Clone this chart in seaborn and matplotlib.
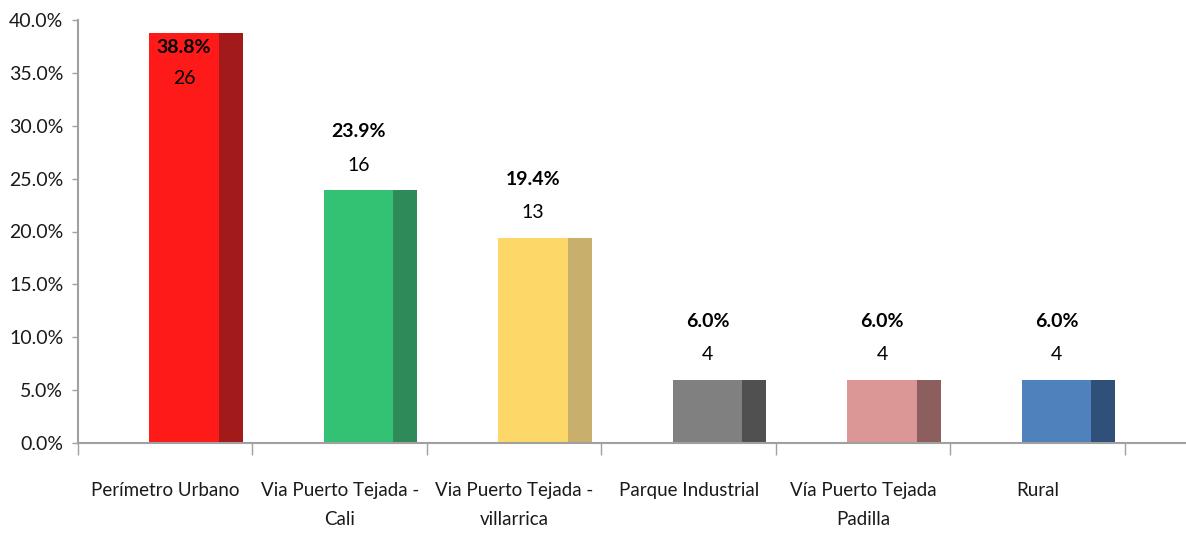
import numpy as np
import pandas as pd
import matplotlib
matplotlib.use("Agg")
import matplotlib.pyplot as plt
import seaborn as sns

categories = ["Perímetro Urbano", "Via Puerto Tejada -\nCali", "Via Puerto Tejada -\nvillarrica",
              "Parque Industrial", "Vía Puerto Tejada\nPadilla", "Rural"]
percent = [38.8, 23.9, 19.4, 6.0, 6.0, 6.0]
counts = [26, 16, 13, 4, 4, 4]

front_colors = ["#FF1A1A", "#33C173", "#FDD868", "#808080", "#DB9696", "#4F81BD"]
side_colors = ["#A31A1A", "#2E8A59", "#C8AF6C", "#505050", "#8C5E5E", "#30507A"]

sns.set_theme(style="white")
plt.rcParams['font.family'] = ['Lato', 'DejaVu Sans']

df = pd.DataFrame({"cat": categories, "pct": np.array(percent) / 100})

fig = plt.figure(figsize=(11.86, 5.34), dpi=100)
ax = fig.add_axes([78 / 1186, 91 / 534, 1 - 78 / 1186, 423 / 534])

sns.barplot(data=df, x="cat", y="pct", hue="cat", palette=front_colors, legend=False,
            width=0.4, saturation=1, linewidth=0, ax=ax)

# darker side face of each bar (fake 3D look)
pos = np.arange(len(categories))
ax.bar(pos + 0.2 + 0.0685, df["pct"], width=0.137, color=side_colors, linewidth=0)

# labels
for i, (p, c) in enumerate(zip(percent, counts)):
    if p > 35:
        off_p, off_c = -11, -33
    else:
        off_p, off_c = 42, 18
    ax.annotate(f"{p:.1f}%", (i, p / 100), xytext=(0, off_p), textcoords="offset points",
                ha="center", va="center", fontsize=14, fontweight="bold", color="black")
    ax.annotate(f"{c}", (i, p / 100), xytext=(0, off_c), textcoords="offset points",
                ha="center", va="center", fontsize=14, color="black")

ax.set_ylim(0, 0.40)
ax.set_yticks(np.arange(0, 0.401, 0.05))
ax.set_yticklabels([f"{v * 100:.1f}%" for v in np.arange(0, 0.401, 0.05)], fontsize=14, color="#1a1a1a")

ax.set_xlim(-0.608, 5.742)
ax.set_xticks(np.arange(-1, 6) + 0.392)
ax.set_xticklabels([])
ax.set_xticks(pos - 0.108, minor=True)
ax.set_xticklabels(categories, minor=True, fontsize=13.5, color="#1a1a1a", linespacing=1.85)
ax.tick_params(axis="x", which="major", direction="out", length=8.5, width=1, color="#A0A0A0", bottom=True)
ax.tick_params(axis="x", which="minor", length=0, pad=28)
ax.tick_params(axis="y", direction="out", length=4.5, width=1, color="#A0A0A0", left=True, pad=6)

for s in ["top", "right"]:
    ax.spines[s].set_visible(False)
for s in ["left", "bottom"]:
    ax.spines[s].set_color("#A0A0A0")
    ax.spines[s].set_linewidth(1.5)

ax.set_xlabel("")
ax.set_ylabel("")
fig.savefig("out.png", dpi=100)
